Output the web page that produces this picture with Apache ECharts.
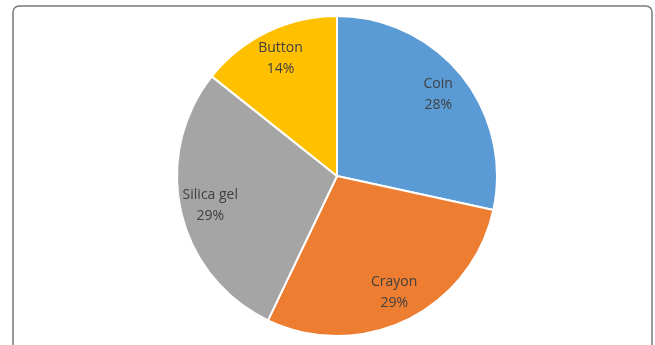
<!DOCTYPE html>
<html>
<head>
<meta charset="utf-8">
<script src="https://cdn.jsdelivr.net/npm/echarts@6/dist/echarts.min.js"></script>
<style>
html,body{margin:0;padding:0;background:#fff;}
#chart{width:655px;height:345px;}
</style>
</head>
<body>
<div id="chart"></div>
<script>
const categories = ['Coin', 'Crayon', 'Silica gel', 'Button'];
const values = [28.4, 28.7, 28.6, 14.3];
const colors = ['#5B9BD5', '#ED7D31', '#A5A5A5', '#FFC000'];

const data = categories.map((c, i) => ({ name: c, value: values[i], itemStyle: { color: colors[i] } }));
const labelData = categories.map((c, i) => ({ name: c, value: values[i] }));

const chart = echarts.init(document.getElementById('chart'), null, { renderer: 'canvas' });
chart.setOption({
  animation: false,
  graphic: [{
    type: 'rect',
    shape: { x: 13, y: 6, width: 639, height: 360, r: 6 },
    style: { fill: 'none', stroke: '#7a7a7a', lineWidth: 1.5 },
    silent: true
  }],
  series: [
    {
      type: 'pie',
      center: [337, 176],
      radius: 160,
      startAngle: 90,
      clockwise: true,
      percentPrecision: 0,
      label: { show: false },
      labelLine: { show: false },
      itemStyle: { borderColor: '#ffffff', borderWidth: 2 },
      data: data
    },
    {
      type: 'pie',
      center: [337, 176],
      radius: [94, 160],
      startAngle: 90,
      clockwise: true,
      percentPrecision: 0,
      silent: true,
      itemStyle: { color: 'rgba(0,0,0,0)' },
      label: {
        show: true,
        position: 'inside',
        formatter: '{b}\n{d}%',
        color: '#404040',
        fontFamily: 'Open Sans',
        fontSize: 14,
        lineHeight: 21
      },
      labelLine: { show: false },
      data: labelData
    }
  ]
});
</script>
</body>
</html>
